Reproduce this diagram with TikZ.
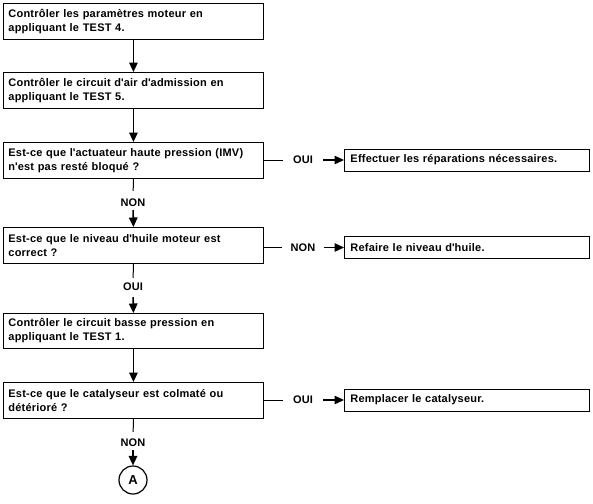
\documentclass[tikz,border=0pt]{standalone}
\usepackage{fontspec}
\setmainfont{Liberation Sans}[LetterSpace=2]
\usetikzlibrary{arrows.meta}
\newcommand{\apo}{\textquotesingle}
\begin{document}
\begin{tikzpicture}[x=1pt,y=-1pt,
  txt/.style={font=\bfseries\fontsize{11}{14}\selectfont},
  mainbox/.style={txt, draw, line width=0.9pt, anchor=north west, text width=250pt,
    inner xsep=5pt, minimum height=36pt, align=left},
  sidebox/.style={txt, draw, line width=0.9pt, anchor=west, text width=233pt,
    inner xsep=6pt, minimum height=22pt, align=left},
  lbl/.style={txt, inner sep=0pt},
  arr/.style={-{Triangle[width=8.5pt,length=9.5pt]}, line width=1.6pt},
  ln/.style={line width=1pt},
  conn/.style={draw, circle, line width=1.2pt, minimum size=28pt, inner sep=0pt,
    font=\bfseries\fontsize{13}{13}\selectfont}]
\useasboundingbox (0,0) rectangle (593,503);
% main column
\node[mainbox] (b1) at (3,3) {Contrôler les paramètres moteur en\\appliquant le TEST 4.};
\node[mainbox] (b2) at (3,72) {Contrôler le circuit d\apo air d\apo admission en\\appliquant le TEST 5.};
\node[mainbox] (b3) at (3,142) {Est-ce que l\apo actuateur haute pression (IMV)\\n\apo est pas resté bloqué ?};
\node[mainbox] (b4) at (3,227) {Est-ce que le niveau d\apo huile moteur est\\correct ?};
\node[mainbox, minimum height=35pt] (b5) at (3,313) {Contrôler le circuit basse pression en\\appliquant le TEST 1.};
\node[mainbox] (b6) at (3,382) {Est-ce que le catalyseur est colmaté ou\\détérioré ?};
% vertical labels
\node[lbl] (v1) at (133,203) {NON};
\node[lbl] (v2) at (133,287) {OUI};
\node[lbl] (v3) at (133,443) {NON};
\node[conn] (a) at (133,480) {A};
% side labels and boxes
\node[lbl] (h1) at (303,160) {OUI};
\node[sidebox] (s1) at (344,160) {Effectuer les réparations nécessaires.};
\node[lbl] (h2) at (303,247.5) {NON};
\node[sidebox] (s2) at (344,247.5) {Refaire le niveau d\apo huile.};
\node[lbl] (h3) at (303,400) {OUI};
\node[sidebox] (s3) at (344,400) {Remplacer le catalyseur.};
% vertical connectors
\draw[arr] (b1.south) -- (b2.north);
\draw[arr] (b2.south) -- (b3.north);
\draw[ln, shorten >=8pt] (b3.south) -- (v1.north);
\draw[arr, shorten <=3pt] (v1.south) -- (b4.north);
\draw[ln, shorten >=5pt] (b4.south) -- (v2.north);
\draw[arr, shorten <=6pt] (v2.south) -- (b5.north);
\draw[arr] (b5.south) -- (b6.north);
\draw[ln, shorten >=7pt] (b6.south) -- (v3.north);
\draw[arr, shorten <=3pt] (v3.south) -- (a.north);
% horizontal connectors
\draw[ln, shorten >=10pt] (b3.east |- h1) -- (h1.west);
\draw[arr, line width=1.2pt, shorten <=10pt] (h1.east) -- (s1.west);
\draw[ln, shorten >=8pt] (b4.east |- h2) -- (h2.west);
\draw[arr, line width=1.2pt, shorten <=8pt] (h2.east) -- (s2.west);
\draw[ln, shorten >=10pt] (b6.east |- h3) -- (h3.west);
\draw[arr, line width=1.2pt, shorten <=10pt] (h3.east) -- (s3.west);
\end{tikzpicture}
\end{document}
